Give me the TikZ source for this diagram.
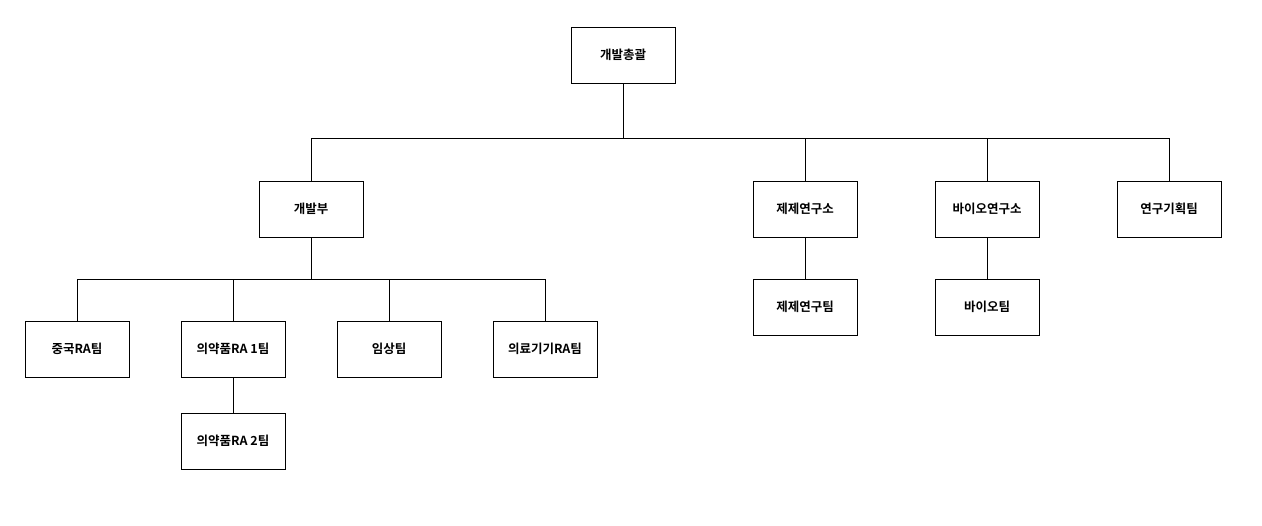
\documentclass[tikz,border=0pt]{standalone}
\usepackage{fontspec}
\newfontfamily\kr{Noto Sans CJK KR}[BoldFont={Noto Sans CJK KR Bold}]
\begin{document}
\begin{tikzpicture}[x=1pt,y=-1pt,
  box/.style={draw,line width=0.8pt,minimum width=104pt,minimum height=56pt,inner sep=1pt,font=\kr\bfseries\fontsize{12.5}{14}\selectfont},
  ln/.style={line width=0.8pt}]
\useasboundingbox (0,0) rectangle (1262,526);
\node[box] (top) at (623,55) {개발총괄};
\node[box] (dev) at (311,209) {개발부};
\node[box] (form) at (805,209) {제제연구소};
\node[box] (bio) at (987,209) {바이오연구소};
\node[box] (plan) at (1169,209) {연구기획팀};
\node[box] (cn) at (77,349) {중국RA팀};
\node[box] (ph1) at (233,349) {의약품RA 1팀};
\node[box] (cl) at (389,349) {임상팀};
\node[box] (md) at (545,349) {의료기기RA팀};
\node[box] (ph2) at (233,441) {의약품RA 2팀};
\node[box] (formt) at (805,307) {제제연구팀};
\node[box] (biot) at (987,307) {바이오팀};
\coordinate (b1) at (623,138);
\coordinate (b2) at (311,279);
\draw[ln] (top.south) -- (b1);
\foreach \n in {dev,form,bio,plan} \draw[ln] (b1) -| (\n.north);
\draw[ln] (b1) -| (dev.north);
\draw[ln] (dev.south) -- (b2);
\foreach \n in {cn,ph1,cl,md} \draw[ln] (b2) -| (\n.north);
\draw[ln] (ph1.south) -- (ph2.north);
\draw[ln] (form.south) -- (formt.north);
\draw[ln] (bio.south) -- (biot.north);
\end{tikzpicture}
\end{document}
